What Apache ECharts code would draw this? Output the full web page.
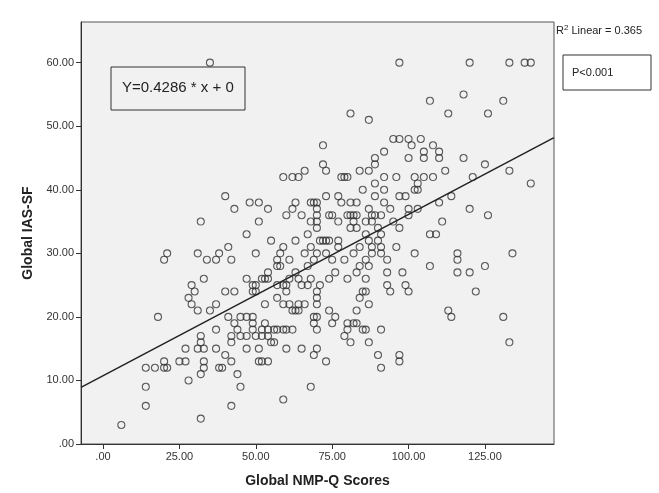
<!DOCTYPE html>
<html lang="en">
<head>
    <meta charset="UTF-8">
    <title>Global IAS-SF vs NMP-Q</title>
    <script src="https://cdn.jsdelivr.net/npm/echarts@6/dist/echarts.min.js"></script>
    <style>
        html, body { margin: 0; padding: 0; background: #fff; }
    </style>
</head>
<body>
<div id="main" style="width: 659px;height:493px;"></div>

<script type="text/javascript">
    // tick positions
    var xTicks = [0, 25, 50, 75, 100, 125];
    var yTicks = [0, 10, 20, 30, 40, 50, 60];

    // fit line as drawn in the reference
    var fitIntercept = 10.73;
    var fitSlope = 0.254;
    var xMin = -7.2, xMax = 147.6;

    // [NMP-Q, IAS-SF], top band first
    var pointsHigh = [
        [35,60],[97,60],[120,60],[133,60],[138,60],[140,60],
        [118,55],[107,54],[131,54],[81,52],[113,52],[126,52],[87,51],
        [95,48],[97,48],[100,48],[104,48],[72,47],[101,47],[108,47],
        [92,46],[105,46],[110,46],[89,45],[100,45],[105,45],[110,45],[118,45],
        [72,44],[89,44],[125,44],[66,43],[73,43],[84,43],[87,43],[112,43],[133,43]
    ];
    var pointsMid = [
        [59,42],[62,42],[64,42],[78,42],[79,42],[80,42],[92,42],[96,42],[102,42],[105,42],[108,42],[121,42],
        [89,41],[103,41],[140,41],
        [85,40],[92,40],[102,40],[103,40],
        [40,39],[73,39],[77,39],[89,39],[97,39],[99,39],[114,39],
        [48,38],[51,38],[63,38],[68,38],[69,38],[70,38],[78,38],[81,38],[83,38],[92,38],[110,38],
        [43,37],[54,37],[62,37],[70,37],[87,37],[94,37],[100,37],[103,37],[120,37],
        [60,36],[65,36],[70,36],[74,36],[75,36],[80,36],[81,36],[82,36],[83,36],[88,36],[89,36],[91,36],[100,36],[126,36],
        [32,35],[51,35],[68,35],[70,35],[77,35],[82,35],[86,35],[88,35],[95,35],[111,35],
        [70,34],[81,34],[83,34],[90,34],[97,34],
        [47,33],[67,33],[86,33],[91,33],[107,33],[109,33],
        [55,32],[63,32],[71,32],[72,32],[73,32],[74,32],[77,32],[87,32],[90,32],
        [41,31],[59,31],[68,31],[77,31],[84,31],[88,31],[91,31],[96,31],
        [21,30],[31,30],[38,30],[50,30],[58,30],[66,30],[70,30],[73,30],[82,30],[88,30],[91,30],[102,30],[116,30],[134,30],
        [20,29],[34,29],[37,29],[42,29],[57,29],[61,29],[69,29],[75,29],[79,29],[86,29],[93,29],[116,29],
        [57,28],[58,28],[67,28],[84,28],[87,28],[107,28],[125,28],
        [54,27],[63,27],[76,27],[83,27],[93,27],[98,27],[116,27],[120,27],
        [33,26],[47,26],[52,26],[53,26],[54,26],[61,26],[64,26],[68,26],[74,26],[80,26],[86,26],
        [29,25],[49,25],[50,25],[57,25],[59,25],[60,25],[65,25],[67,25],[71,25],[93,25],[99,25],
        [30,24],[40,24],[43,24],[49,24],[50,24],[60,24],[70,24],[85,24],[86,24],[94,24],[100,24],[122,24],
        [28,23],[57,23],[70,23],[84,23],
        [29,22],[37,22],[53,22],[59,22],[61,22],[64,22],[66,22],[70,22],[87,22]
    ];
    var pointsLow = [
        [31,21],[35,21],[62,21],[63,21],[64,21],[74,21],[83,21],[113,21],
        [18,20],[41,20],[45,20],[47,20],[49,20],[69,20],[70,20],[76,20],[114,20],[131,20],
        [43,19],[49,19],[53,19],[69,19],[75,19],[80,19],[82,19],[83,19],
        [37,18],[44,18],[49,18],[52,18],[54,18],[56,18],[57,18],[59,18],[60,18],[62,18],[70,18],[80,18],[85,18],[86,18],[91,18],
        [32,17],[42,17],[45,17],[47,17],[50,17],[52,17],[54,17],[79,17],
        [32,16],[42,16],[55,16],[56,16],[81,16],[87,16],[133,16],
        [27,15],[31,15],[33,15],[37,15],[47,15],[51,15],[60,15],[65,15],[70,15],
        [40,14],[69,14],[90,14],[97,14],
        [20,13],[25,13],[27,13],[33,13],[42,13],[51,13],[52,13],[54,13],[73,13],[97,13],
        [14,12],[17,12],[20,12],[21,12],[33,12],[38,12],[39,12],[91,12],
        [32,11],[44,11],[28,10],
        [14,9],[45,9],[68,9],[59,7],[14,6],[42,6],[32,4],[6,3]
    ];

    var points = pointsHigh.concat(pointsMid, pointsLow);

    function fmt(v) {
        return v === 0 ? '.00' : v.toFixed(2);
    }

    var myChart = echarts.init(document.getElementById('main'));
    var option = {
        backgroundColor: '#ffffff',
        animation: false,
        textStyle: { fontFamily: 'Liberation Sans, Arial, sans-serif' },
        grid: {
            left: 81, right: 105, top: 22, bottom: 48,
            show: true,
            backgroundColor: '#f1f1f1',
            borderColor: '#555',
            borderWidth: 1
        },
        xAxis: {
            type: 'value',
            min: xMin, max: xMax,
            name: 'Global NMP-Q Scores',
            nameLocation: 'middle',
            nameGap: 30,
            nameTextStyle: { fontSize: 14, fontWeight: 'bold', color: '#222' },
            axisLine: { onZero: false, lineStyle: { color: '#333', width: 1 } },
            axisTick: { show: true, length: 5, customValues: xTicks, lineStyle: { color: '#333' } },
            axisLabel: { customValues: xTicks, formatter: fmt, color: '#333', fontSize: 11, margin: 7 },
            splitLine: { show: false }
        },
        yAxis: {
            type: 'value',
            min: 0, max: 66.4,
            name: 'Global IAS-SF',
            nameLocation: 'middle',
            nameGap: 44,
            nameTextStyle: { fontSize: 14, fontWeight: 'bold', color: '#222' },
            axisLine: { show: true, onZero: false, lineStyle: { color: '#333', width: 1 } },
            axisTick: { show: true, length: 5, customValues: yTicks, lineStyle: { color: '#333' } },
            axisLabel: { customValues: yTicks, formatter: fmt, color: '#333', fontSize: 11, margin: 7 },
            splitLine: { show: false }
        },
        series: [
            {
                type: 'scatter',
                data: points,
                symbol: 'circle',
                symbolSize: 7,
                itemStyle: { color: 'rgba(0,0,0,0)', borderColor: '#333', borderWidth: 1.1 }
            },
            {
                type: 'line',
                data: [[xMin, fitIntercept + fitSlope * xMin], [xMax, fitIntercept + fitSlope * xMax]],
                symbol: 'none',
                lineStyle: { color: '#222', width: 1.5 },
                silent: true
            }
        ],
        graphic: [
            {
                type: 'rect',
                shape: { x: 111, y: 67, width: 134, height: 43 },
                style: { fill: '#f1f1f1', stroke: '#333', lineWidth: 1 }
            },
            {
                type: 'text',
                x: 122, y: 80,
                style: { text: 'Y=0.4286 * x + 0', fontSize: 15, fill: '#222', fontFamily: 'Liberation Sans, Arial, sans-serif' }
            },
            {
                type: 'text',
                x: 556, y: 24,
                style: {
                    rich: { s: { fontSize: 8, verticalAlign: 'top', padding: [0, 0, 6, 0] } },
                    text: 'R{s|2} Linear = 0.365', fontSize: 11, fill: '#222',
                    fontFamily: 'Liberation Sans, Arial, sans-serif'
                }
            },
            {
                type: 'rect',
                shape: { x: 563, y: 55, width: 88, height: 35 },
                style: { fill: '#fff', stroke: '#333', lineWidth: 1 }
            },
            {
                type: 'text',
                x: 572, y: 67,
                style: { text: 'P<0.001', fontSize: 11, fill: '#222', fontFamily: 'Liberation Sans, Arial, sans-serif' }
            }
        ]
    };
    myChart.setOption(option);
</script>
</body>
</html>
